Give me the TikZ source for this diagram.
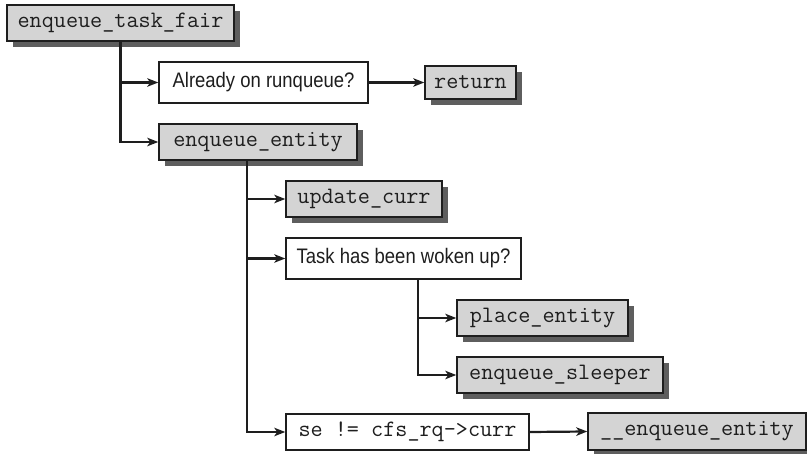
\documentclass[tikz,border=0pt]{standalone}
\usepackage{fontspec}
\setmainfont{Liberation Sans}
\newfontfamily\narrowsans[FakeStretch=0.88]{Liberation Sans}
\newfontfamily\codefont{Latin Modern Mono}
\usetikzlibrary{arrows.meta,shadows}
\definecolor{boxgray}{HTML}{D4D4D4}
\definecolor{shadowgray}{HTML}{5E5E5E}
\definecolor{ink}{HTML}{1E1E1E}
\tikzset{
  base/.style={draw=ink, line width=1.5pt, inner sep=0pt, text=ink},
  fn/.style={base, fill=boxgray, font=\fontsize{23.5}{27}\selectfont\codefont,
    drop shadow={shadow xshift=6pt, shadow yshift=-6pt, fill=shadowgray, opacity=1}},
  cond/.style={base, fill=white, font=\fontsize{21}{25}\selectfont\narrowsans},
  condmono/.style={base, fill=white, font=\fontsize{23.5}{27}\selectfont\codefont},
  arr/.style={draw=ink, line width=2.2pt, -{Stealth[length=11pt,width=8.5pt,inset=3pt]}},
}
\begin{document}
\begin{tikzpicture}[x=1pt,y=-1pt]
\useasboundingbox (0,0) rectangle (807,454);
\node[fn, minimum width=227pt, minimum height=36pt] (A) at (120.5,23) {enqueue\_task\_fair};
\node[cond, minimum width=209pt, minimum height=41pt] (B) at (263.5,82.5) {Already on runqueue?};
\node[fn, minimum width=91pt, minimum height=33pt] (C) at (470.5,82.5) {return};
\node[fn, minimum width=198pt, minimum height=36pt] (D) at (258,142) {enqueue\_entity};
\node[fn, minimum width=156pt, minimum height=36pt] (E) at (364,199) {update\_curr};
\node[cond, minimum width=235pt, minimum height=41pt] (F) at (403.5,258.5) {Task has been woken up?};
\node[fn, minimum width=171pt, minimum height=36pt] (G) at (542.5,318) {place\_entity};
\node[fn, minimum width=206pt, minimum height=36pt] (H) at (560,375) {enqueue\_sleeper};
\node[condmono, minimum width=243pt, minimum height=36pt] (I) at (407.5,432) {se != cfs\_rq->curr};
\node[fn, minimum width=218pt, minimum height=37pt] (J) at (697,431.5) {\_\_enqueue\_entity};

\draw[arr] (A.south) |- (B.west);
\draw[arr] (A.south) |- (D.west);
\draw[arr] (B.east) -- (C.west);
\coordinate (dt) at ([xshift=-11pt]D.south);
\draw[arr] (dt) |- (E.west);
\draw[arr] (dt) |- (F.west);
\draw[arr] (dt) |- (I.west);
\coordinate (ft) at ([xshift=14.5pt]F.south);
\draw[arr] (ft) |- (G.west);
\draw[arr] (ft) |- (H.west);
\draw[arr] (I.east) -- (J.west);
\end{tikzpicture}
\end{document}
